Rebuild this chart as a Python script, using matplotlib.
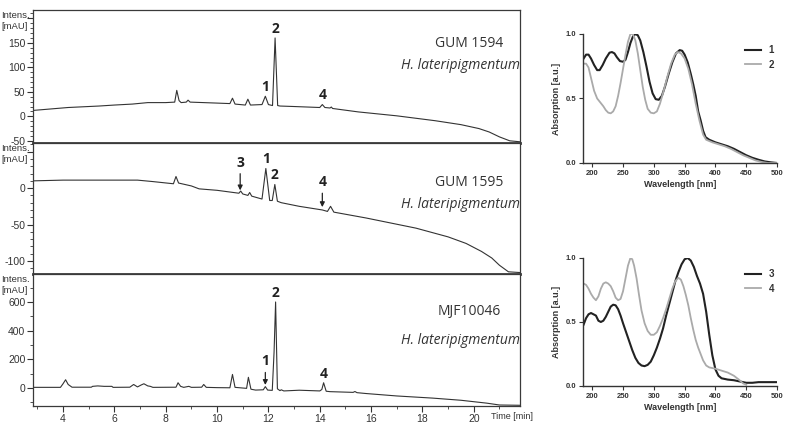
import numpy as np
import matplotlib.pyplot as plt
import matplotlib.transforms as mtrans
from matplotlib.ticker import MultipleLocator, FixedLocator, FixedFormatter

plt.rcParams['font.family'] = ['Liberation Sans', 'DejaVu Sans']

# chromatograms (retention time [min], intensity [mAU])
t_1594 = [2.83, 4.2, 5.4, 6.0, 6.7, 7.3, 8.0, 8.35, 8.43, 8.52, 8.6, 8.8, 8.87, 8.95,
          10.0, 10.5, 10.6, 10.7, 11.1, 11.2, 11.3, 11.75, 11.88, 12.0, 12.16, 12.26,
          12.36, 12.45, 13.0, 14.0, 14.1, 14.2, 14.4, 14.45, 14.5, 15.5, 17.0, 18.5,
          19.5, 20.2, 20.6, 21.0, 21.4, 21.8]
i_1594 = [12, 18, 21, 23, 25, 28, 28, 29, 53, 32, 28, 29, 33, 29,
          27, 26, 37, 25, 23, 35, 23, 24, 41, 24, 22, 160,
          22, 21, 20, 18, 24, 18, 17, 19, 16, 9, 1, -9,
          -17, -25, -32, -42, -50, -52]

t_1595 = [2.83, 4.0, 5.0, 6.0, 6.9, 7.5, 8.3, 8.4, 8.5, 9.0, 9.3, 10.0, 10.85, 10.92,
          11.0, 11.2, 11.27, 11.35, 11.75, 11.9, 12.05, 12.15, 12.25, 12.35, 12.5,
          13.2, 14.1, 14.3, 14.42, 14.55, 15.8, 17.75, 19.0, 19.7, 20.3, 20.7, 21.0,
          21.35, 21.8]
i_1595 = [10, 11, 11, 11, 11, 9, 6, 16, 7, 3, -1, -3, -7, -4,
          -8, -10, -6, -11, -15, 27, -17, -17, 5, -18, -20,
          -25, -30, -32, -25, -33, -41, -55, -67, -76, -87, -96, -106,
          -115, -116]

t_mjf = [2.83, 3.9, 4.0, 4.1, 4.2, 4.35, 5.1, 5.15, 5.35, 5.6, 5.9, 5.95, 6.6, 6.75,
         6.9, 7.05, 7.15, 7.3, 7.4, 7.5, 8.4, 8.48, 8.58, 8.7, 8.9, 9.0, 9.4, 9.48,
         9.58, 10.0, 10.5, 10.6, 10.7, 11.15, 11.22, 11.32, 11.5, 11.8, 11.88, 11.97,
         12.15, 12.22, 12.28, 12.35, 12.45, 12.5, 12.6, 13.2, 14.0, 14.08, 14.15,
         14.25, 14.4, 15.3, 15.37, 15.45, 15.8, 17.0, 18.4, 19.5, 20.5, 21.0, 21.8]
i_mjf = [5, 5, 30, 58, 25, 6, 6, 12, 15, 12, 12, 5, 6, 25,
         8, 22, 30, 15, 12, 5, 6, 37, 12, 5, 12, 5, 6, 25,
         5, 3, 2, 95, 5, -2, 75, -8, -14, -12, 10, -14,
         -16, 250, 600, -5, -18, -12, -20, -15, -20, -10, 37,
         -22, -25, -30, -24, -32, -38, -55, -70, -85, -105, -118, -120]

# UV spectra (wavelength [nm], absorption [a.u.])
wl_1 = [186, 190, 194, 198, 203, 208, 212, 217, 222, 228, 232, 236, 240, 245, 250, 254,
        258, 262, 266, 270, 274, 278, 283, 288, 293, 298, 303, 308, 313, 318, 324, 330,
        336, 342, 346, 350, 355, 360, 364, 368, 372, 376, 380, 384, 390, 400, 410, 420,
        430, 440, 450, 460, 470, 480, 490, 500]
ab_1 = [0.81, 0.84, 0.84, 0.81, 0.76, 0.72, 0.72, 0.76, 0.81, 0.855, 0.86, 0.85, 0.82,
        0.79, 0.785, 0.80, 0.86, 0.93, 0.98, 1.0, 0.99, 0.95, 0.86, 0.75, 0.63, 0.54,
        0.495, 0.49, 0.52, 0.59, 0.69, 0.78, 0.85, 0.875, 0.87, 0.84, 0.78, 0.69, 0.61,
        0.52, 0.40, 0.33, 0.25, 0.20, 0.18, 0.16, 0.145, 0.13, 0.11, 0.085, 0.06, 0.04,
        0.025, 0.012, 0.005, 0.0]
wl_2 = [186, 190, 194, 198, 203, 208, 213, 218, 222, 226, 230, 234, 238, 242, 246, 250,
        254, 258, 262, 266, 270, 274, 278, 282, 286, 290, 295, 300, 305, 310, 316, 322,
        328, 334, 339, 344, 350, 356, 362, 368, 374, 380, 385, 395, 405, 415, 425, 435,
        445, 455, 465, 475, 485, 500]
ab_2 = [0.77, 0.77, 0.74, 0.66, 0.56, 0.50, 0.47, 0.44, 0.41, 0.39, 0.385, 0.40, 0.44,
        0.52, 0.62, 0.73, 0.84, 0.94, 1.0, 1.0, 0.95, 0.85, 0.72, 0.59, 0.49, 0.42, 0.39,
        0.385, 0.40, 0.46, 0.56, 0.67, 0.77, 0.84, 0.86, 0.85, 0.81, 0.73, 0.61, 0.46,
        0.33, 0.22, 0.18, 0.16, 0.145, 0.13, 0.11, 0.085, 0.06, 0.04, 0.02, 0.008, 0.0,
        0.0]
wl_3 = [186, 190, 194, 198, 202, 206, 210, 214, 218, 222, 226, 230, 234, 238, 242, 246,
        250, 255, 260, 265, 270, 275, 280, 285, 290, 295, 300, 305, 310, 315, 320, 325,
        330, 335, 340, 345, 350, 355, 360, 365, 370, 375, 380, 385, 390, 395, 400, 405,
        410, 420, 430, 440, 450, 460, 470, 480, 490, 500]
ab_3 = [0.48, 0.53, 0.56, 0.57, 0.56, 0.55, 0.51, 0.50, 0.51, 0.54, 0.58, 0.62, 0.635,
        0.63, 0.60, 0.55, 0.49, 0.42, 0.35, 0.28, 0.22, 0.18, 0.16, 0.155, 0.165, 0.19,
        0.24, 0.30, 0.37, 0.45, 0.55, 0.64, 0.73, 0.82, 0.89, 0.95, 0.99, 1.0, 0.98,
        0.93, 0.86, 0.80, 0.72, 0.58, 0.40, 0.24, 0.13, 0.08, 0.06, 0.05, 0.045, 0.035,
        0.025, 0.025, 0.03, 0.03, 0.03, 0.03]
wl_4 = [186, 190, 194, 198, 202, 206, 210, 214, 218, 222, 226, 230, 234, 238, 242, 246,
        250, 254, 258, 262, 265, 268, 272, 276, 280, 285, 290, 295, 300, 305, 310, 315,
        320, 325, 330, 335, 340, 344, 348, 352, 356, 360, 364, 368, 372, 376, 380, 385,
        390, 395, 400, 410, 420, 430, 438, 445, 450]
ab_4 = [0.80, 0.79, 0.76, 0.72, 0.69, 0.67, 0.70, 0.76, 0.80, 0.81, 0.80, 0.78, 0.74,
        0.69, 0.67, 0.68, 0.74, 0.84, 0.94, 1.0, 0.99, 0.94, 0.84, 0.71, 0.59, 0.49,
        0.43, 0.40, 0.40, 0.42, 0.47, 0.53, 0.60, 0.68, 0.76, 0.82, 0.845, 0.83, 0.78,
        0.71, 0.63, 0.53, 0.44, 0.36, 0.30, 0.25, 0.20, 0.16, 0.145, 0.14, 0.135, 0.12,
        0.105, 0.08, 0.05, 0.02, 0.01]

names = ['GUM 1594', 'GUM 1595', 'MJF10046']
species = 'H. lateripigmentum'

fig = plt.figure(figsize=(8, 4.25), dpi=100)

line_c = '#333333'
frame_c = '#3a3a3a'

panels = [
    # (rect, t, i, ylim, major, minor, labelled ticks, name y, species y)
    ([0.04125, 0.6635, 0.60875, 0.3129], t_1594, i_1594, (-54.5, 217), 50, 10,
     [-50, 0, 50, 100, 150], 0.752, 0.586),
    ([0.04125, 0.3553, 0.60875, 0.3082], t_1595, i_1595, (-118, 62), 50, 10,
     [-100, -50, 0], 0.695, 0.534),
    ([0.04125, 0.0447, 0.60875, 0.3106], t_mjf, i_mjf, (-125, 795), 200, 100,
     [0, 200, 400, 600], 0.715, 0.50),
]

axes = []
for k, (rect, t, i, ylim, major, minor, labelled, ny, sy) in enumerate(panels):
    ax = fig.add_axes(rect)
    ax.plot(t, i, color=line_c, lw=0.8)
    ax.set_xlim(2.83, 21.8)
    ax.set_ylim(*ylim)
    majors = np.arange(-200, 801, major)
    majors = majors[(majors >= ylim[0]) & (majors <= ylim[1])]
    ax.yaxis.set_major_locator(FixedLocator(majors))
    ax.yaxis.set_major_formatter(FixedFormatter(
        [str(m) if m in labelled else '' for m in majors]))
    ax.yaxis.set_minor_locator(MultipleLocator(minor))
    ax.tick_params(axis='y', which='major', length=4, width=0.8, labelsize=7.5,
                   colors='#333333', pad=1.5)
    ax.tick_params(axis='y', which='minor', length=2.5, width=0.6, colors='#333333')
    for s in ax.spines.values():
        s.set_color(frame_c)
        s.set_linewidth(0.9)
    if k < 2:
        ax.spines['bottom'].set_linewidth(2.0)
        ax.set_xticks([])
    top_px = (rect[1] + rect[3]) * 425
    fig.text(0.002, (top_px - 1) / 425, 'Intens.\n[mAU]', ha='left', va='top',
             fontsize=6.8, color='#333333', linespacing=1.25)
    ax.text(0.895, ny, names[k], transform=ax.transAxes, ha='center', va='center',
            fontsize=10, family='Open Sans', color='#333333')
    ax.text(0.877, sy, species, transform=ax.transAxes, ha='center', va='center',
            fontsize=10, family='Open Sans', style='italic', color='#333333')
    axes.append(ax)

ax1, ax2, ax3 = axes

ax3.set_xticks([4, 6, 8, 10, 12, 14, 16, 18, 20])
ax3.xaxis.set_minor_locator(MultipleLocator(1))
ax3.tick_params(axis='x', which='major', length=4, width=0.8, labelsize=7.5,
                colors='#333333', pad=2)
ax3.tick_params(axis='x', which='minor', length=2.5, width=0.6, colors='#333333')
tr = mtrans.blended_transform_factory(ax3.transData, ax3.transAxes)
ax3.text(20.66, -0.078, 'Time [min]', transform=tr, ha='left', va='center',
         fontsize=6.5, color='#333333', clip_on=False)

lab = dict(fontsize=10, fontweight='bold', family='Open Sans', color='#222222',
           ha='center', va='bottom')
arr = dict(arrowstyle='-|>', color='#222222', lw=0.9, mutation_scale=7,
           shrinkA=1, shrinkB=1)


def peak_label(ax, txt, t, v, dy=1.5):
    ax.annotate(txt, xy=(t, v), xytext=(0, dy), textcoords='offset points', **lab)


def arrow_label(ax, txt, t, v, dy):
    ax.annotate(txt, xy=(t, v), xytext=(0, dy), textcoords='offset points',
                arrowprops=arr, **lab)


peak_label(ax1, '1', 11.88, 41)
peak_label(ax1, '2', 12.26, 160)
peak_label(ax1, '4', 14.1, 24)

arrow_label(ax2, '3', 10.9, -5, 16)
peak_label(ax2, '1', 11.9, 27)
peak_label(ax2, '2', 12.25, 5)
arrow_label(ax2, '4', 14.1, -28, 14)

peak_label(ax3, '2', 12.28, 600)
arrow_label(ax3, '1', 11.88, 12, 13)
peak_label(ax3, '4', 14.15, 37)

# UV spectra
specs = [
    ([0.72875, 0.6165, 0.2425, 0.3035], (wl_1, ab_1, '1'), (wl_2, ab_2, '2')),
    ([0.72875, 0.0918, 0.2425, 0.3012], (wl_3, ab_3, '3'), (wl_4, ab_4, '4')),
]
for rect, dark, light in specs:
    ax = fig.add_axes(rect)
    ax.plot(dark[0], dark[1], color='#222222', lw=1.5, label=dark[2])
    ax.plot(light[0], light[1], color='#aaaaaa', lw=1.3, label=light[2])
    ax.set_xlim(185, 500)
    ax.set_ylim(0, 1.0)
    ax.set_xticks([200, 250, 300, 350, 400, 450, 500])
    ax.set_yticks([0.0, 0.5, 1.0])
    ax.set_yticklabels(['0.0', '0.5', '1.0'])
    for s in ['top', 'right']:
        ax.spines[s].set_visible(False)
    for s in ['left', 'bottom']:
        ax.spines[s].set_linewidth(1.0)
        ax.spines[s].set_color('#333333')
    ax.tick_params(length=3, width=0.8, labelsize=5.5, colors='#333333', pad=2)
    for lbl in ax.get_xticklabels() + ax.get_yticklabels():
        lbl.set_fontweight('bold')
    ax.set_xlabel('Wavelength [nm]', fontsize=6.5, fontweight='bold', labelpad=2,
                  color='#333333')
    ax.set_ylabel('Absorption [a.u.]', fontsize=6.5, fontweight='bold', labelpad=3,
                  color='#333333')
    leg = ax.legend(loc='upper right', bbox_to_anchor=(1.03, 0.98), frameon=False,
                    handlelength=1.6, handletextpad=0.8, labelspacing=0.45,
                    prop={'size': 7, 'weight': 'bold'})
    for txt in leg.get_texts():
        txt.set_color('#333333')

fig.savefig('out.png', dpi=100)
